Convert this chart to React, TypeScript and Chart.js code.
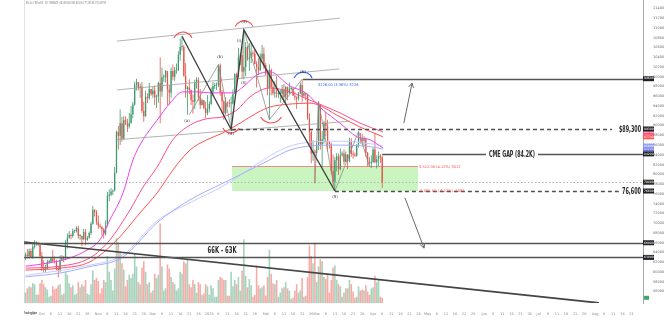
import { useEffect, useRef } from "react";
import { Chart, registerables } from "chart.js";

Chart.register(...registerables);

// ---- Daily candles BTC/USDT, 22 Sep 2024 (index 0) to 6 Apr 2025 (index 196), prices in thousands ----
const opens = [
  63.3,63.6,63.3,64.3,63.1,65.2,65.8,65.9,65.6,
  63.3,60.8,60.6,60.7,62.1,62.1,62.8,62.2,62.1,60.6,60.3,62.4,62.9,62.8,66.0,67.0,67.6,67.4,68.4,68.4,69.0,67.4,67.4,66.7,68.2,66.6,67.0,68.0,69.9,72.7,72.3,
  70.2,69.5,69.3,68.7,67.8,69.4,75.6,75.9,76.5,76.7,80.4,88.7,87.9,90.5,87.3,91.1,90.6,89.8,90.5,92.3,94.3,98.3,98.9,97.7,98.0,93.0,91.9,95.9,95.6,97.5,
  96.4,97.2,95.8,96.0,98.7,97.0,99.9,99.9,101.2,97.4,96.7,101.2,100.0,101.4,101.4,104.5,106.1,106.1,100.2,97.5,97.8,97.3,95.2,94.9,98.7,99.4,95.8,94.2,95.2,93.6,92.6,
  93.4,94.4,96.9,98.1,98.2,98.3,102.3,96.9,95.0,92.5,94.7,94.6,94.5,94.5,96.5,100.5,99.9,104.1,104.4,101.1,102.0,106.1,103.6,103.9,104.8,104.7,102.6,102.0,101.3,103.7,104.7,
  102.4,100.6,97.7,101.4,97.9,96.6,96.6,96.5,96.5,96.5,97.4,95.8,97.9,96.6,97.5,97.6,96.1,95.8,95.5,96.6,98.3,96.1,96.6,96.3,91.5,88.7,84.3,84.7,
  84.4,86.0,94.3,86.1,87.2,90.6,89.9,86.7,86.2,80.7,78.5,82.9,83.7,81.1,83.9,84.3,82.6,84.1,82.7,86.9,84.2,84.0,83.8,86.1,87.5,87.4,86.9,87.2,84.4,82.6,82.3,
  82.5,85.1,82.5,83.1,83.8,83.5,
];
const highs = [
  64.0,64.7,64.8,64.8,65.8,66.5,66.3,66.1,65.6,
  64.1,62.4,61.5,62.5,62.4,62.9,64.5,63.2,62.5,61.3,63.4,63.5,63.3,66.5,67.9,68.4,67.9,68.9,68.7,69.4,69.5,67.8,67.5,68.8,68.8,67.4,68.3,70.3,73.6,72.9,72.7,
  71.6,69.9,69.4,69.0,70.6,76.4,76.9,77.2,76.9,81.5,89.0,89.9,93.3,91.8,91.9,91.9,91.4,92.6,94.0,94.9,98.9,99.6,98.9,98.6,98.9,94.9,97.2,96.6,98.7,97.5,
  97.9,98.2,96.3,99.0,104.0,101.9,100.5,101.4,101.2,98.3,101.9,102.5,102.0,102.7,105.2,107.8,108.3,106.5,102.8,98.1,99.5,97.4,96.4,99.4,99.9,99.9,97.5,95.5,95.2,94.9,96.2,
  95.0,97.8,98.9,98.7,98.8,102.5,102.7,97.3,95.3,95.8,94.9,95.4,95.9,97.4,100.7,100.8,105.9,104.9,106.3,109.6,107.1,106.4,106.9,107.1,105.3,105.5,103.2,103.8,104.8,106.5,106.0,
  102.8,101.5,102.5,101.7,99.0,99.1,100.1,96.9,97.3,98.3,98.5,98.1,98.0,98.8,97.9,97.7,97.0,96.0,96.9,98.8,99.5,96.9,96.6,96.5,92.5,89.3,87.0,85.1,
  86.6,95.0,94.4,88.9,91.0,92.8,91.2,86.8,86.5,84.1,83.6,84.4,84.3,85.3,84.7,85.1,84.7,84.1,87.5,87.4,84.9,84.5,86.1,88.8,88.5,88.3,87.8,87.5,84.6,83.5,83.9,
  85.5,88.5,83.9,84.7,84.2,83.8,
];
const lows = [
  62.4,62.7,62.7,62.9,62.7,64.8,65.4,65.4,62.9,
  60.2,59.9,59.8,60.5,61.7,61.9,62.1,61.8,60.3,58.9,60.0,62.4,62.0,62.4,64.8,66.8,66.7,67.1,68.0,68.1,66.8,66.6,65.3,66.5,65.5,66.4,66.8,67.6,69.7,71.4,69.7,
  68.8,69.0,67.5,66.8,67.5,69.3,74.5,75.6,75.8,76.5,80.2,85.1,86.0,86.7,87.1,90.1,88.7,89.4,90.4,91.5,94.1,97.2,97.2,95.7,92.6,90.8,91.8,94.6,95.3,96.1,
  95.7,94.2,93.6,94.7,90.5,95.9,99.0,98.8,94.2,94.3,95.7,99.3,99.2,100.6,101.2,103.3,105.3,100.0,95.7,92.2,96.4,94.2,92.4,93.4,97.6,95.1,93.4,94.1,93.3,91.5,92.1,
  92.7,94.2,96.0,97.5,97.3,97.9,96.1,92.5,91.2,92.2,93.8,93.7,89.2,94.3,96.5,97.3,99.9,102.3,99.6,99.5,100.1,103.3,101.2,102.8,104.1,102.5,97.8,100.3,101.3,103.3,101.6,
  100.3,96.2,91.2,96.2,96.2,95.7,95.7,95.7,94.7,95.3,94.9,94.1,95.2,96.4,97.2,96.1,95.2,93.4,95.1,96.4,94.9,95.7,95.2,91.2,86.0,82.3,82.8,78.2,
  83.8,85.0,85.1,81.4,86.3,87.8,84.7,85.3,80.0,77.5,76.6,80.6,79.9,80.8,83.6,82.0,82.5,81.1,82.5,83.6,83.2,83.6,83.6,85.5,86.3,85.9,85.8,83.6,81.6,81.6,81.3,
  82.4,82.3,81.2,81.7,82.4,77.2,
];
const closes = [
  63.6,63.3,64.3,63.1,65.2,65.8,65.9,65.6,63.3,
  60.8,60.6,60.7,62.1,62.1,62.8,62.2,62.1,60.6,60.3,62.4,62.9,62.8,66.0,67.0,67.6,67.4,68.4,68.4,69.0,67.4,67.4,66.7,68.2,66.6,67.0,68.0,69.9,72.7,72.3,70.2,
  69.5,69.3,68.7,67.8,69.4,75.6,75.9,76.5,76.7,80.4,88.7,87.9,90.5,87.3,91.1,90.6,89.8,90.5,92.3,94.3,98.3,98.9,97.7,98.0,93.0,91.9,95.9,95.6,97.5,96.4,
  97.2,95.8,96.0,98.7,97.0,99.9,99.9,101.2,97.4,96.7,101.2,100.0,101.4,101.4,104.5,106.1,106.1,100.2,97.5,97.8,97.3,95.2,94.9,98.7,99.4,95.8,94.2,95.2,93.6,92.6,93.4,
  94.4,96.9,98.1,98.2,98.3,102.3,96.9,95.0,92.5,94.7,94.6,94.5,94.5,96.5,100.5,99.9,104.1,104.4,101.1,102.0,106.1,103.6,103.9,104.8,104.7,102.6,102.0,101.3,103.7,104.7,102.4,
  100.6,97.7,101.4,97.9,96.6,96.6,96.5,96.5,96.5,97.4,95.8,97.9,96.6,97.5,97.6,96.1,95.8,95.5,96.6,98.3,96.1,96.6,96.3,91.5,88.7,84.3,84.7,84.4,
  86.0,94.3,86.1,87.2,90.6,89.9,86.7,86.2,80.7,78.5,82.9,83.7,81.1,83.9,84.3,82.6,84.1,82.7,86.9,84.2,84.0,83.8,86.1,87.5,87.4,86.9,87.2,84.4,82.6,82.3,82.5,
  85.1,82.5,83.1,83.8,83.5,78.4,
];
const volumes = [
  10,14,16,15,19,18,8,8,19,
  22,18,15,13,6,7,16,13,14,17,18,8,9,30,27,19,15,17,8,9,20,15,18,16,22,9,8,18,31,22,24,
  21,9,14,22,20,45,30,22,12,33,62,58,48,38,32,16,22,27,24,28,47,35,20,18,34,40,30,18,20,10,
  12,28,24,27,76,35,12,14,37,33,25,20,18,12,14,30,28,40,38,42,18,15,22,18,10,20,18,8,9,18,16,
  8,17,14,6,6,22,25,24,22,22,7,7,30,16,22,18,25,12,31,61,26,15,23,17,6,8,36,17,14,15,17,
  7,25,51,28,19,18,22,6,10,14,15,20,14,12,4,5,12,18,10,12,24,6,7,25,55,45,38,58,
  20,35,42,40,25,23,28,10,22,34,36,22,18,16,6,10,14,14,22,18,11,5,6,16,12,13,12,17,11,8,14,
  15,26,20,22,6,5,
];

// ---- Moving averages: [day index, price k] ----
const maFast = [
  [0,61.2],[13.5,61.9],[24.5,62.9],[33.8,64.5],[40.9,66.6],[46.4,70.7],[53.6,76.2],[59.1,83.0],[64.6,87.1],
  [72.3,91.1],[79.4,94.6],[86.5,96.9],[94.2,96.9],[101.4,96.7],[108.5,96.7],[114,96.7],[119.5,97.9],[127.2,100.4],
  [134.3,101.0],[145.3,98.1],[154,96.7],[163.5,93.2],[172.8,90.5],[182.1,87.7],[189.3,87.1],[196.4,85.4],
];
const maMid = [
  [0,60.8],[19,61.2],[35.4,62.9],[46.4,66.6],[57.4,72.7],[64.6,77.4],[72.3,81.5],[81,87.1],[90.4,90.1],
  [99.7,91.4],[108.5,91.8],[116.2,93.2],[123.4,95.9],[134.3,97.7],[145.3,96.9],[156.3,95.2],[172.8,92.6],
  [183.8,90.5],[196.4,88.7],
];
const maSlow = [
  [0,60.4],[19,60.8],[35.4,62.1],[50.3,66.6],[62.9,72.1],[72.3,76.2],[81,80.9],[90.4,85.0],[99.7,87.1],
  [108.5,88.5],[117.9,90.5],[127.2,92.6],[134.3,93.8],[145.3,94.4],[156.3,94.6],[172.8,91.8],[183.8,89.7],
  [196.4,87.7],
];
const maLong = [
  [0,59.0],[19,59.8],[33.8,61.0],[53.6,63.1],[72.3,70.1],[90.4,74.8],[108.5,78.2],[117.9,79.9],[134.3,83.0],
  [145.3,85.0],[156.3,85.8],[172.8,86.0],[190.9,85.6],[196.4,85.2],
];
const maLong2 = [
  [0,59.3],[33.8,61.3],[53.6,63.5],[72.3,70.5],[90.4,74.2],[108.5,77.6],[134.3,83.8],[145.3,85.8],[156.3,86.6],
  [172.8,86.8],[190.9,86.2],[196.4,85.8],
];

// ---- Axis ticks ----
const priceTicks = [56,58,60,62,64,66,68,70,72,74,76,78,80,82,84,86,88,90,92,94,96,98,100,102,104,106,108,110,112,114];
const monthStarts = [9,40,70,101,132,160,191,221,252,282,313];
const monthNames = ["Oct","Nov","Dec","2025","Feb","Mar","Apr","May","Jun","Jul","Aug"];
const dayOffsets = [5,10,15,20,25];
const dayNames = ["6","11","16","21","26"];
const firstTick = { day: 4, label: "26" };

// ---- Drawings (day index, price k) ----
const channelLines = [
  [[50.3,107.3],[172.8,112.0]],
  [[50.3,97.3],[172.3,101.6]],
  [[50.3,87.1],[178.3,90.9]],
];
const waveMain = [[86,108.3],[113,89.2],[120,109.6],[170,76.6]];
const waveThin = [
  [[90,92.2],[106,102.5],[113,89.2]],
  [[120,109.6],[134,91.2],[152,99.5]],
  [[159,78.2],[161,95.0],[170,76.6],[183,88.8],[189,81.6]],
];
const longTrend = [[-0.8,66.16],[315.1,53.67]];
const levels = [
  { price: 99.6, from: 152.5, to: 340, kind: "solid" },
  { price: 89.3, from: 113.5, to: 322.3, kind: "dashed" },
  { price: 84.2, from: 196, to: 340, kind: "solid" },
  { price: 76.6, from: 170, to: 326, kind: "dashed" },
  { price: 66.0, from: -1, to: 340, kind: "solid" },
  { price: 63.0, from: -1, to: 340, kind: "solid" },
];
const levelLabels = [
  { text: "$89,300", day: 338.2, price: 89.3, align: "right" },
  { text: "CME GAP (84.2K)", day: 267.3, price: 84.2, align: "center" },
  { text: "76,600", day: 338.2, price: 76.6, align: "right" },
  { text: "66K - 63K", day: 108, price: 64.55, align: "center" },
];
const greenBox = { from: 113.5, to: 215.7, top: 81.7, bottom: 76.6 };
const arcs = [
  { day: 86.5, price: 107.1, kind: "cap", color: "red" },
  { day: 120.1, price: 109.4, kind: "cap", color: "red" },
  { day: 112.9, price: 90.3, kind: "cup", color: "red" },
  { day: 134.9, price: 93.0, kind: "cupWide", color: "red" },
  { day: 152.5, price: 98.9, kind: "cap", color: "blue" },
];
const arrows = [
  [[207.9,90.5],[212.4,98.7]],
  [[208.5,75.2],[219,64.9]],
];
const waveLabels = [
  { text: "(a)", day: 88.7, price: 90.9 },
  { text: "(b)", day: 106.9, price: 104.0 },
  { text: "(4)", day: 112.9, price: 88.2 },
  { text: "(3)", day: 120.05, price: 111.3 },
  { text: "(i)", day: 117.3, price: 107.3 },
  { text: "(ii)", day: 120.05, price: 98.7 },
  { text: "(b)", day: 152.5, price: 100.9 },
  { text: "(5)", day: 170.1, price: 75.3 },
];
const smallTexts = [
  { text: "3226.00 (3.36%) 3226", day: 160.7, price: 98.3, color: "blue" },
  { text: "3,512.00 (4.12%) 3512", day: 216.2, price: 81.6, color: "red" },
  { text: "-5,085.55 (-6.22%) -5085", day: 216.2, price: 76.6, color: "red" },
];
const tagLevels = [99.6, 89.3, 84.2, 76.6, 66.0, 63.0];
const titleText = "Bitcoin / TetherUS · 1D · BINANCE  O83,504.80 H83,818.00 L77,153.83 C78,367.99";

const COLORS = {
  up: "#3f9a6e",
  down: "#e2574c",
  volUp: "rgba(20,140,80,0.38)",
  volDown: "rgba(232,70,60,0.45)",
  fast: "#ec43e4",
  mid: "#ff4d8f",
  slow: "#ff5252",
  long: "#a5adff",
  long2: "#c7ccff",
  red: "#ef4a4a",
  blue: "#2f62f0",
};
const LABEL_WIDTHS: Record<string, number> = { "$89,300": 22, "CME GAP (84.2K)": 46, "76,600": 19, "66K - 63K": 29 };

const X_MIN = -0.82;
const X_MAX = 339.3;
const Y_MIN = 53.66;
const Y_MAX = 115.72;

function buildXTicks() {
  const t = [{ value: firstTick.day, label: firstTick.label }];
  monthStarts.forEach((m, k) => {
    t.push({ value: m, label: monthNames[k] });
    dayOffsets.forEach((o, j) => {
      if (m + o <= 336) t.push({ value: m + o, label: dayNames[j] });
    });
  });
  return t;
}

const annotationPlugin = {
  id: "tvDrawings",
  beforeDatasetsDraw(chart: any) {
    const { ctx, chartArea: a, scales } = chart;
    const X = (v: number) => scales.x.getPixelForValue(v);
    const Y = (v: number) => scales.y.getPixelForValue(v);
    ctx.save();
    ctx.strokeStyle = "#e2e2e2";
    ctx.lineWidth = 1;
    ctx.beginPath();
    ctx.moveTo(a.left + 0.5, a.top);
    ctx.lineTo(a.left + 0.5, a.bottom);
    ctx.stroke();
    const x0 = X(greenBox.from), x1 = X(greenBox.to);
    const y0 = Y(greenBox.top), y1 = Y(greenBox.bottom);
    ctx.fillStyle = "rgba(150,236,130,0.5)";
    ctx.fillRect(x0, y0, x1 - x0, y1 - y0);
    ctx.strokeStyle = "rgba(240,110,110,0.75)";
    ctx.beginPath();
    ctx.moveTo(x0, Math.round(y0) + 0.5);
    ctx.lineTo(x1, Math.round(y0) + 0.5);
    ctx.stroke();
    const yc = Math.round(Y(closes[closes.length - 1])) + 0.5;
    ctx.setLineDash([1.5, 2]);
    ctx.strokeStyle = "#b5b5b5";
    ctx.beginPath();
    ctx.moveTo(a.left, yc);
    ctx.lineTo(a.right, yc);
    ctx.stroke();
    ctx.restore();
  },
  afterDatasetsDraw(chart: any) {
    const { ctx, chartArea: a, scales } = chart;
    const X = (v: number) => scales.x.getPixelForValue(v);
    const Y = (v: number) => scales.y.getPixelForValue(v);
    const poly = (pts: number[][]) => {
      ctx.beginPath();
      pts.forEach(([d, p], k) => (k ? ctx.lineTo(X(d), Y(p)) : ctx.moveTo(X(d), Y(p))));
      ctx.stroke();
    };
    ctx.save();
    ctx.beginPath();
    ctx.rect(a.left, a.top, a.right - a.left, a.bottom - a.top);
    ctx.clip();

    ctx.strokeStyle = "#a0a0a0";
    ctx.lineWidth = 0.8;
    channelLines.forEach(poly);
    ctx.strokeStyle = "#8c8c8c";
    ctx.lineWidth = 0.8;
    waveThin.forEach(poly);
    ctx.strokeStyle = "#3c3c3c";
    ctx.lineWidth = 1.3;
    poly(waveMain);
    ctx.strokeStyle = "#444";
    ctx.lineWidth = 1.7;
    poly(longTrend);

    levels.forEach((lv) => {
      const y = Math.round(Y(lv.price)) + 0.5;
      ctx.strokeStyle = lv.kind === "dashed" ? "#505050" : "#555";
      ctx.lineWidth = 1.6;
      ctx.setLineDash(lv.kind === "dashed" ? [4, 3] : []);
      ctx.beginPath();
      ctx.moveTo(X(lv.from), y);
      ctx.lineTo(X(lv.to), y);
      ctx.stroke();
    });
    ctx.setLineDash([]);

    arcs.forEach((ar) => {
      const cx = X(ar.day), cy = Y(ar.price);
      ctx.strokeStyle = ar.color === "blue" ? COLORS.blue : COLORS.red;
      ctx.lineWidth = 1.1;
      ctx.beginPath();
      const d = Math.PI / 180;
      if (ar.kind === "cap") ctx.arc(cx, cy, 10, 205 * d, 335 * d);
      else if (ar.kind === "cup") ctx.arc(cx, cy, 9, 25 * d, 155 * d);
      else ctx.arc(cx, cy, 12, 30 * d, 150 * d);
      ctx.stroke();
    });

    ctx.strokeStyle = "#6a6a6a";
    ctx.lineWidth = 1;
    arrows.forEach(([s, e]) => {
      const x0 = X(s[0]), y0 = Y(s[1]), x1 = X(e[0]), y1 = Y(e[1]);
      const ang = Math.atan2(y1 - y0, x1 - x0);
      ctx.beginPath();
      ctx.moveTo(x0, y0);
      ctx.lineTo(x1, y1);
      ctx.moveTo(x1 - 5 * Math.cos(ang - 0.5), y1 - 5 * Math.sin(ang - 0.5));
      ctx.lineTo(x1, y1);
      ctx.lineTo(x1 - 5 * Math.cos(ang + 0.5), y1 - 5 * Math.sin(ang + 0.5));
      ctx.stroke();
    });

    ctx.textBaseline = "middle";
    levelLabels.forEach((lb) => {
      const w = LABEL_WIDTHS[lb.text];
      const x = X(lb.day), y = Y(lb.price);
      ctx.font = "bold 9px 'Liberation Sans Narrow', 'DejaVu Sans Condensed', 'DejaVu Sans', sans-serif";
      if (lb.align === "center") {
        ctx.fillStyle = "#fff";
        ctx.fillRect(x - w / 2 - 3, y - 4, w + 6, 8);
        ctx.textAlign = "center";
      } else {
        ctx.textAlign = "right";
      }
      ctx.fillStyle = "#2a2a2a";
      ctx.fillText(lb.text, x, y + 0.5, w);
    });

    ctx.font = "4px 'DejaVu Sans', sans-serif";
    ctx.textAlign = "center";
    ctx.fillStyle = "#333";
    waveLabels.forEach((wl) => ctx.fillText(wl.text, X(wl.day), Y(wl.price)));

    ctx.textAlign = "left";
    ctx.font = "3.6px 'DejaVu Sans', sans-serif";
    smallTexts.forEach((st) => {
      ctx.fillStyle = st.color === "blue" ? COLORS.blue : COLORS.red;
      ctx.fillText(st.text, X(st.day), Y(st.price));
    });
    ctx.restore();
  },
  afterDraw(chart: any) {
    const { ctx, chartArea: a, scales } = chart;
    const Y = (v: number) => scales.y.getPixelForValue(v);
    ctx.save();
    const tag = (price: number, color: string) => {
      const y = Y(price);
      ctx.fillStyle = color;
      ctx.fillRect(a.right, y - 2.5, 11, 5);
      ctx.fillStyle = "#fff";
      ctx.font = "3px 'DejaVu Sans', sans-serif";
      ctx.textAlign = "left";
      ctx.textBaseline = "middle";
      ctx.fillText(String(Math.round(price * 1000)), a.right + 1, y, 10);
    };
    tag(maFast[maFast.length - 1][1], COLORS.fast);
    tag(maLong[maLong.length - 1][1], "#6a74e8");
    tag(maLong2[maLong2.length - 1][1], "#8d95f2");
    tag(maMid[maMid.length - 1][1], COLORS.mid);
    tag(maSlow[maSlow.length - 1][1], COLORS.slow);
    tagLevels.forEach((p) => tag(p, "#1f2126"));
    tag(closes[closes.length - 1], "#2b2b2b");
    const vLast = volumes[volumes.length - 1];
    ctx.fillStyle = "#3fa46e";
    ctx.fillRect(a.right + 1, scales.yv.getPixelForValue(vLast) - 2, 5, 4);

    ctx.fillStyle = "#7a7a7a";
    ctx.font = "4px 'DejaVu Sans', sans-serif";
    ctx.textAlign = "left";
    ctx.textBaseline = "top";
    ctx.fillText(titleText, a.left + 2, 0.5, 80);
    ctx.fillStyle = "#555";
    ctx.font = "bold 3.5px 'DejaVu Sans', sans-serif";
    ctx.fillText("TradingView", a.left, 311, 13);
    ctx.restore();
  },
};

export default function App() {
  const ref = useRef<HTMLCanvasElement | null>(null);

  useEffect(() => {
    if (!ref.current) return;
    Chart.defaults.font.family = "'DejaVu Sans', sans-serif";
    const upDown = closes.map((c, i) => c >= opens[i]);
    const xTicks = buildXTicks();
    const xLabelMap = new Map(xTicks.map((t) => [t.value, t.label]));
    const lineDs = (data: number[][], color: string, width: number) => ({
      type: "line" as const,
      data: data.map(([d, p]) => ({ x: d, y: p })),
      borderColor: color,
      borderWidth: width,
      pointRadius: 0,
      cubicInterpolationMode: "monotone" as const,
      yAxisID: "y",
      order: 1,
    });

    const chart = new Chart(ref.current, {
      type: "bar",
      data: {
        datasets: [
          lineDs(maFast, COLORS.fast, 1),
          lineDs(maMid, COLORS.mid, 1),
          lineDs(maSlow, COLORS.slow, 1),
          lineDs(maLong, COLORS.long, 1),
          lineDs(maLong2, COLORS.long2, 1),
          {
            type: "bar",
            data: opens.map((o, i) => ({ x: i, y: [o, closes[i]] })),
            backgroundColor: upDown.map((u) => (u ? COLORS.up : COLORS.down)),
            barThickness: 1.3,
            minBarLength: 1,
            grouped: false,
            inflateAmount: 0,
            yAxisID: "y",
            order: 2,
          },
          {
            type: "bar",
            data: lows.map((l, i) => ({ x: i, y: [l, highs[i]] })),
            backgroundColor: upDown.map((u) => (u ? COLORS.up : COLORS.down)),
            barThickness: 0.8,
            grouped: false,
            inflateAmount: 0,
            yAxisID: "y",
            order: 3,
          },
          {
            type: "bar",
            data: volumes.map((v, i) => ({ x: i, y: v })),
            backgroundColor: upDown.map((u) => (u ? COLORS.volUp : COLORS.volDown)),
            barThickness: 1.6,
            grouped: false,
            inflateAmount: 0,
            yAxisID: "yv",
            order: 10,
          },
        ] as any,
      },
      options: {
        responsive: false,
        devicePixelRatio: 1,
        animation: false,
        events: [],
        layout: { padding: { left: 24, top: 0, right: 0, bottom: 0 } },
        plugins: { legend: { display: false }, tooltip: { enabled: false } },
        scales: {
          x: {
            type: "linear",
            min: X_MIN,
            max: X_MAX,
            offset: false,
            grid: { display: false, offset: false },
            border: { display: false },
            afterBuildTicks: (s: any) => {
              s.ticks = xTicks.map((t) => ({ value: t.value }));
            },
            afterFit: (s: any) => {
              s.height = 29;
              s.paddingLeft = 0;
              s.paddingRight = 0;
            },
            ticks: {
              autoSkip: false,
              maxRotation: 0,
              padding: 1,
              color: "#8a8a8a",
              font: { size: 3.5 },
              callback: (v: any) => xLabelMap.get(v) ?? "",
            },
          },
          y: {
            type: "linear",
            position: "right",
            min: Y_MIN,
            max: Y_MAX,
            grid: { display: false },
            border: { display: true, color: "#a8a8a8" },
            afterBuildTicks: (s: any) => {
              s.ticks = priceTicks.map((v) => ({ value: v }));
            },
            afterFit: (s: any) => {
              s.width = 21;
              s.paddingTop = 0;
              s.paddingBottom = 0;
            },
            ticks: {
              padding: 2,
              color: "#6a6a6a",
              font: { size: 3.5 },
              callback: (v: any) => (Number(v) * 1000).toFixed(0),
            },
          },
          yv: {
            type: "linear",
            display: false,
            min: 0,
            max: 290,
          },
        } as any,
      },
      plugins: [annotationPlugin],
    } as any);
    return () => chart.destroy();
  }, []);

  return (
    <div style={{ position: "absolute", left: 0, top: 0, width: 664, height: 332, background: "#fff" }}>
      <canvas ref={ref} width={664} height={332} style={{ display: "block", width: 664, height: 332 }} />
    </div>
  );
}
